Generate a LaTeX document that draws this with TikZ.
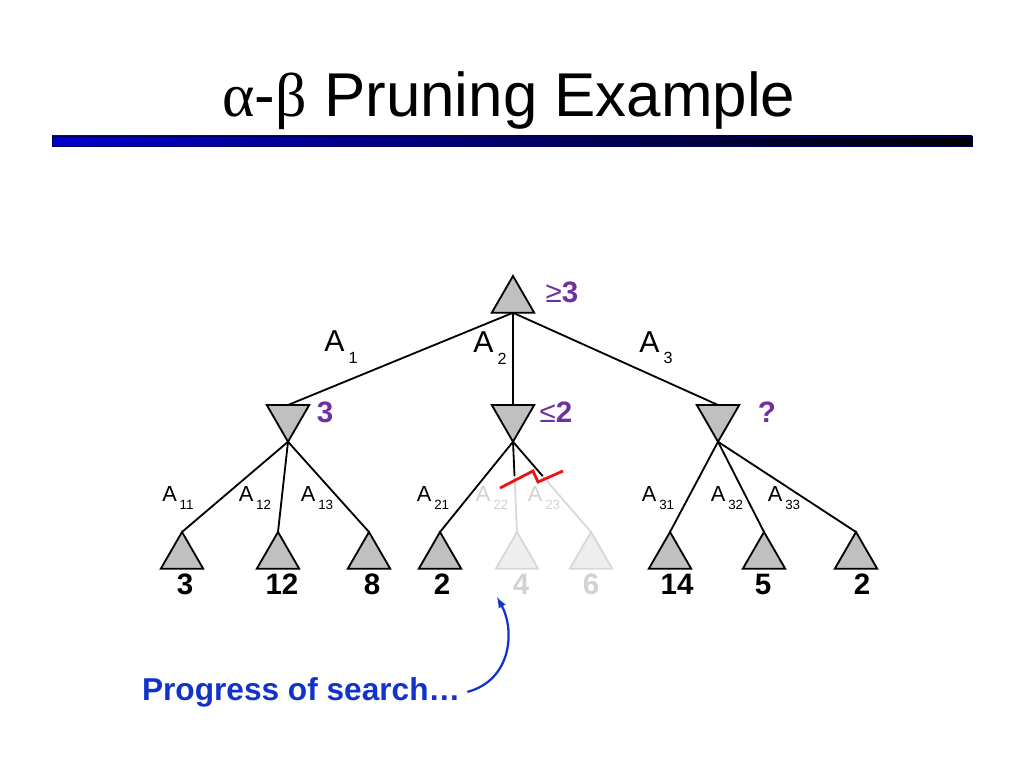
\documentclass[tikz,border=0pt]{standalone}
\usepackage{fontspec}
\setmainfont{Liberation Sans}
\newfontfamily\greekfont{Liberation Serif}
\usetikzlibrary{shapes.geometric}

\definecolor{valpurple}{RGB}{112,48,160}
\definecolor{noteblue}{RGB}{17,51,204}
\definecolor{barblue}{RGB}{0,0,205}
\definecolor{barmid}{RGB}{0,0,150}
\definecolor{baredge}{RGB}{0,0,90}
\definecolor{cutred}{RGB}{235,20,20}
\definecolor{nodegray}{RGB}{192,192,192}
\definecolor{prunedline}{RGB}{216,216,216}
\definecolor{prunedfill}{RGB}{238,238,238}
\definecolor{prunedtext}{RGB}{210,210,210}

\newcommand{\bigA}[1]{{\fontsize{21.5}{21.5}\selectfont A}\hspace{3pt}\raisebox{-8pt}{\fontsize{11.5}{11.5}\selectfont #1}}
\newcommand{\smallA}[1]{{\fontsize{15.5}{15.5}\selectfont A}\hspace{2pt}\raisebox{-5.5pt}{\fontsize{9.5}{9.5}\selectfont #1}}

\begin{document}
\begin{tikzpicture}[x=0.025cm, y=-0.025cm,
    maxnode/.style={regular polygon, regular polygon sides=3, draw, line width=1.3pt,
      fill=nodegray, minimum size=1.225cm, inner sep=0pt, outer sep=0pt},
    minnode/.style={maxnode, shape border rotate=180, anchor=side 2},
    leafnode/.style={maxnode, anchor=corner 1},
    prunedleaf/.style={leafnode, draw=prunedline, fill=prunedfill},
    branch/.style={line width=1.3pt},
    prunedbranch/.style={line width=1.3pt, prunedline},
    value/.style={text=valpurple, font=\fontsize{21}{21}\selectfont\bfseries, inner sep=0pt},
    leafval/.style={anchor=base, font=\fontsize{21}{21}\selectfont\bfseries, inner sep=0pt},
    edgelab/.style={inner sep=0pt},
    cutline/.style={cutred, line width=2pt}]
    \useasboundingbox (0, 0) rectangle (1024, 768);

    \node [anchor=base, font=\fontsize{44}{44}\selectfont] (title) at (509, 117) {
        {\greekfont α}-{\greekfont β} Pruning Example
    };
    \shade [left color=barblue, middle color=barmid, right color=black] (52, 136) rectangle (972, 146);
    \draw [baredge, line width=0.6pt] (52, 136) rectangle (972, 146);

    \node [maxnode, anchor=corner 1] (root) at (513, 276) {};
    \node [minnode] (mn1) at (288, 405) {};
    \node [minnode] (mn2) at (513, 405) {};
    \node [minnode] (mn3) at (718, 405) {};

    \node [leafnode] (l1) at (182, 532) {};
    \node [leafnode] (l2) at (278, 532) {};
    \node [leafnode] (l3) at (369, 532) {};
    \node [leafnode] (l4) at (440, 532) {};
    \node [prunedleaf] (l5) at (517, 532) {};
    \node [prunedleaf] (l6) at (591, 532) {};
    \node [leafnode] (l7) at (670, 532) {};
    \node [leafnode] (l8) at (764, 532) {};
    \node [leafnode] (l9) at (856, 532) {};

    \draw [branch] (root.side 2) -- (mn1.side 2);
    \draw [branch] (root.side 2) -- (mn2.side 2);
    \draw [branch] (root.side 2) -- (mn3.side 2);

    \foreach \leaf in {l1, l2, l3}
      \draw [branch] (mn1.corner 1) -- (\leaf.corner 1);
    \foreach \leaf in {l7, l8, l9}
      \draw [branch] (mn3.corner 1) -- (\leaf.corner 1);
    \draw [branch] (mn2.corner 1) -- (l4.corner 1);

    \path (mn2.corner 1) -- (l5.corner 1) coordinate[pos=0.38] (cut5);
    \path (mn2.corner 1) -- (l6.corner 1) coordinate[pos=0.38] (cut6);
    \draw [prunedbranch] (cut5) -- (l5.corner 1);
    \draw [prunedbranch] (cut6) -- (l6.corner 1);
    \draw [branch] (mn2.corner 1) -- (cut5);
    \draw [branch] (mn2.corner 1) -- (cut6);
    \draw [cutline] (500, 488) -- (533, 471) -- (538, 482) -- (563, 471);

    \node [value] (rootval) at (562, 292) {{\mdseries ≥}3};
    \node [value] (mn1val) at (325, 412) {3};
    \node [value] (mn2val) at (556, 412) {{\mdseries ≤}2};
    \node [value] (mn3val) at (767, 412) {?};

    \node [edgelab] (a1) at (341, 347) {\bigA{1}};
    \node [edgelab] (a2) at (490, 348) {\bigA{2}};
    \node [edgelab] (a3) at (656, 348) {\bigA{3}};

    \node [edgelab] (a11) at (178, 498) {\smallA{11}};
    \node [edgelab] (a12) at (255, 498) {\smallA{12}};
    \node [edgelab] (a13) at (317, 498) {\smallA{13}};
    \node [edgelab] (a21) at (433, 498) {\smallA{21}};
    \node [edgelab, text=prunedtext] (a22) at (492, 498) {\smallA{22}};
    \node [edgelab, text=prunedtext] (a23) at (544, 498) {\smallA{23}};
    \node [edgelab] (a31) at (658, 498) {\smallA{31}};
    \node [edgelab] (a32) at (727, 498) {\smallA{32}};
    \node [edgelab] (a33) at (784, 498) {\smallA{33}};

    \node [leafval] (v1) at (185, 594) {3};
    \node [leafval] (v2) at (282, 594) {12};
    \node [leafval] (v3) at (372, 594) {8};
    \node [leafval] (v4) at (442, 594) {2};
    \node [leafval, text=prunedtext] (v5) at (521, 594) {4};
    \node [leafval, text=prunedtext] (v6) at (591, 594) {6};
    \node [leafval] (v7) at (677, 594) {14};
    \node [leafval] (v8) at (763, 594) {5};
    \node [leafval] (v9) at (862, 594) {2};

    \node [anchor=base west, text=noteblue, inner sep=0pt, outer sep=5pt,
      font=\fontsize{22.5}{22.5}\selectfont\bfseries] (prog) at (135, 700) {
        Progress of search…
    };
    \coordinate (tip) at (497, 597);
    \draw [->, >=latex, noteblue, line width=1.6pt]
      (prog.east)
        ..
        controls
          (512, 680) and
          (515, 630)
        ..
      (tip);
\end{tikzpicture}
\end{document}
